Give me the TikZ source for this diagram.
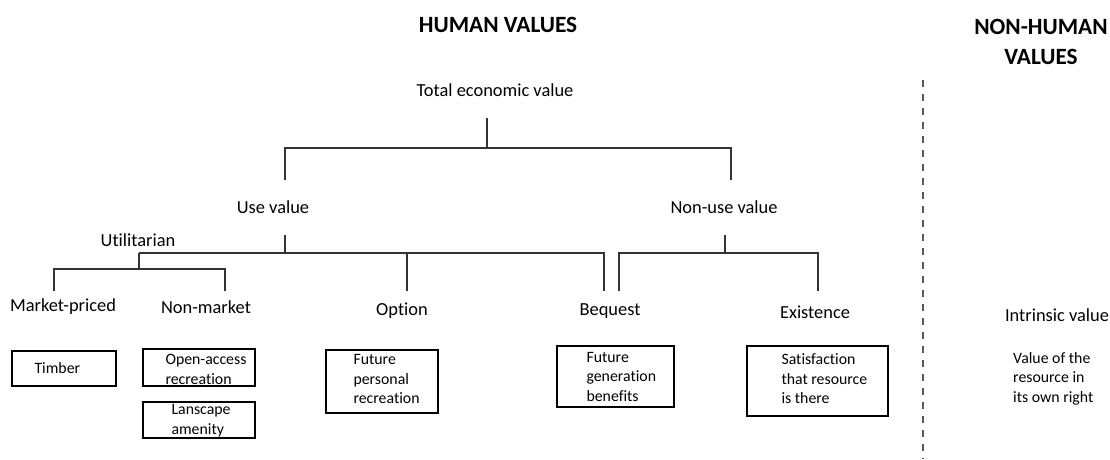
\documentclass[tikz,border=0pt]{standalone}
\usepackage{fontspec}
\setmainfont{Carlito}[Ligatures=NoCommon]
\begin{document}
\begin{tikzpicture}[x=1pt,y=-1pt,
  lbl/.style={font=\fontsize{18.4}{22}\selectfont, inner sep=0},
  hdr/.style={font=\fontsize{23.3}{30}\selectfont\bfseries, inner sep=0, align=center},
  btext/.style={font=\fontsize{15.8}{19.5}\selectfont, inner sep=0, align=left, anchor=west},
  valbox/.style={draw, line width=1.3pt, inner sep=0},
  conn/.style={draw, line width=1.2pt, color=black!80},
  sep/.style={draw, line width=1.2pt, color=black!65, dash pattern=on 7pt off 7pt}]
\useasboundingbox (0,0) rectangle (1110,459);

% headers
\node[hdr] (hv) at (498,25) {HUMAN VALUES};
\node[hdr] (nhv) at (1041,42) {NON-HUMAN\\VALUES};

% labels
\node[lbl] (tev) at (495,90) {Total economic value};
\node[lbl] (use) at (273,207) {Use value};
\node[lbl] (nonuse) at (724,207) {Non-use value};
\node[lbl] (util) at (138,240) {Utilitarian};
\node[lbl] (mp) at (63,307) {Market-priced};
\node[lbl] (nm) at (206,307) {Non-market};
\node[lbl] (opt) at (402,311) {Option};
\node[lbl] (beq) at (610,311) {Bequest};
\node[lbl] (ex) at (815,312) {Existence};
\node[lbl] (iv) at (1057,315) {Intrinsic value};

% boxes
\node[valbox, minimum width=104pt, minimum height=35pt] (btimber) at (64,368.5) {};
\node[valbox, minimum width=112pt, minimum height=37pt] (bopen) at (199,367.5) {};
\node[valbox, minimum width=112pt, minimum height=36pt] (bland) at (199,420) {};
\node[valbox, minimum width=112pt, minimum height=63pt] (bfpr) at (382,381.5) {};
\node[valbox, minimum width=117pt, minimum height=61pt] (bfgb) at (615.5,376.5) {};
\node[valbox, minimum width=141pt, minimum height=70pt] (bsat) at (817.5,381) {};

\node[btext] (ttimber) at ([xshift=23pt,yshift=0.5pt]btimber.west) {Timber};
\node[btext] (topen) at ([xshift=23pt,yshift=-2pt]bopen.west) {Open-access\\recreation};
\node[btext] (tland) at ([xshift=29pt,yshift=-0.5pt]bland.west) {Lanscape\\amenity};
\node[btext] (tfpr) at ([xshift=28pt,yshift=2.5pt]bfpr.west) {Future\\personal\\recreation};
\node[btext] (tfgb) at ([xshift=30pt]bfgb.west) {Future\\generation\\benefits};
\node[btext] (tsat) at ([xshift=35pt,yshift=2pt]bsat.west) {Satisfaction\\that resource\\is there};
\node[btext] (tvor) at (1013,378.5) {Value of the\\resource in\\its own right};

% connector points
\coordinate (t0) at (487,118);
\coordinate (t1) at (487,148);
\coordinate (tl) at (285,148);
\coordinate (tr) at (731,148);
\coordinate (tlb) at (285,180);
\coordinate (trb) at (731,180);

\coordinate (u0) at (285,235);
\coordinate (u1) at (285,253);
\coordinate (ul) at (139,253);
\coordinate (uo) at (407,253);
\coordinate (ur) at (604,253);
\coordinate (uob) at (407,291);
\coordinate (urb) at (604,291);
\coordinate (ulb) at (139,269);
\coordinate (ml) at (54,269);
\coordinate (mr) at (225,269);
\coordinate (mlb) at (54,291);
\coordinate (mrb) at (225,291);

\coordinate (n0) at (725,235);
\coordinate (n1) at (725,253);
\coordinate (nl) at (619,253);
\coordinate (nr) at (818,253);
\coordinate (nlb) at (619,291);
\coordinate (nrb) at (818,291);

\coordinate (d0) at (923,80);
\coordinate (d1) at (923,459);

% connectors
\draw[conn] (t0) -- (t1);
\draw[conn] (tlb) -- (tl) -- (tr) -- (trb);
\draw[conn] (u0) -- (u1);
\draw[conn] (ul) -- (ur) -- (urb);
\draw[conn] (uo) -- (uob);
\draw[conn] (ul) -- (ulb);
\draw[conn] (mlb) -- (ml) -- (mr) -- (mrb);
\draw[conn] (n0) -- (n1);
\draw[conn] (nlb) -- (nl) -- (nr) -- (nrb);
\draw[sep] (d0) -- (d1);
\end{tikzpicture}
\end{document}
